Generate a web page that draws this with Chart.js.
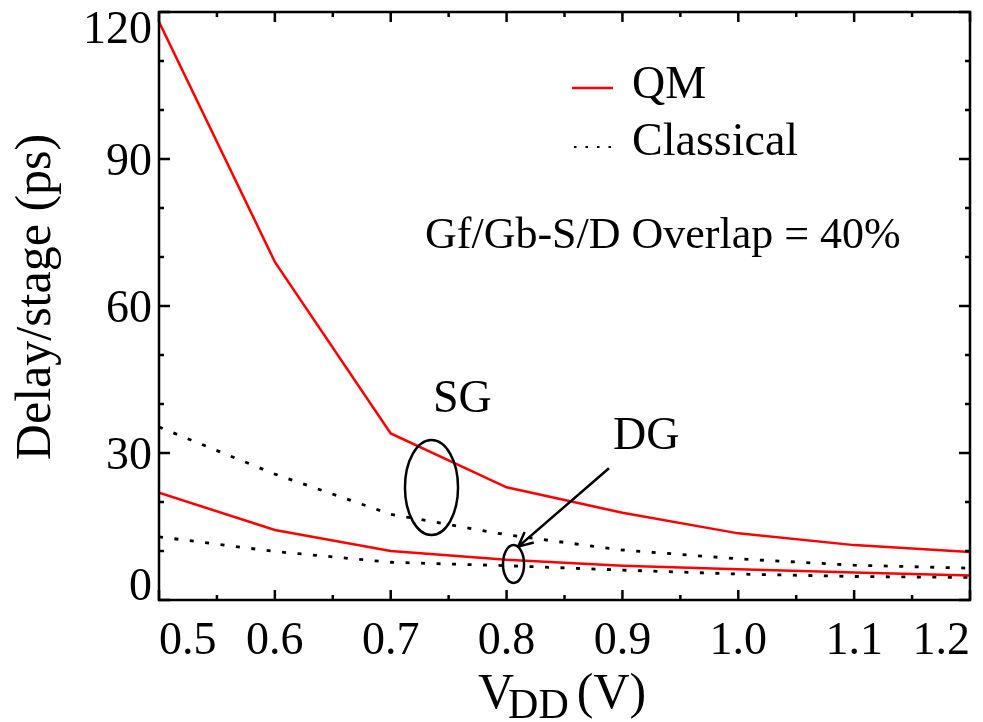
<!DOCTYPE html>
<html>
<head>
<meta charset="utf-8">
<script src="https://cdn.jsdelivr.net/npm/chart.js@4.4.0/dist/chart.umd.min.js"></script>
<style>
  html, body { margin: 0; padding: 0; background: #fff; overflow: hidden; }
  #delayChart { position: absolute; left: 0; top: 0; }
</style>
</head>
<body>
<canvas id="delayChart" width="983" height="722"></canvas>
<script>
// supply voltage (V)
const vdd = [0.5, 0.6, 0.7, 0.8, 0.9, 1.0, 1.1, 1.2];

// delay per stage (ps)
const qmSG = [118, 69, 34, 23, 17.8, 13.6, 11.2, 9.8];
const classicalSG = [35.3, 25.7, 17.5, 13.3, 10.2, 8.4, 7.1, 6.5];
const qmDG = [21.9, 14.3, 10, 8.2, 7.0, 6.3, 5.6, 5.0];
const classicalDG = [12.9, 9.9, 7.7, 7.0, 6.1, 5.3, 4.8, 4.6];

const xTicks = [0.5, 0.6, 0.7, 0.8, 0.9, 1.0, 1.1, 1.2];
const xMinor = [0.55, 0.65, 0.75, 0.85, 0.95, 1.05, 1.15];
const yTicks = [0, 30, 60, 90, 120];
const yMinor = [10, 20, 40, 50, 70, 80, 100, 110];

const serifFam = '"Liberation Serif", serif';
const dotDash = [4, 11.5];

function pts(ys) {
  return vdd.map((v, i) => ({ x: v, y: ys[i] }));
}

// frame, inward ticks, y labels, titles, legend and notes
const decorations = {
  id: 'decorations',
  afterDraw(chart) {
    const ctx = chart.ctx;
    const { left, right, top, bottom } = chart.chartArea;
    const xs = chart.scales.x, ys = chart.scales.y;
    ctx.save();
    ctx.strokeStyle = '#000';
    ctx.fillStyle = '#000';
    ctx.lineWidth = 2.5;
    ctx.lineCap = 'butt';
    ctx.strokeRect(left, top, right - left, bottom - top);

    ctx.beginPath();
    const xt = (v, len) => {
      const p = xs.getPixelForValue(v);
      ctx.moveTo(p, bottom); ctx.lineTo(p, bottom - len);
      ctx.moveTo(p, top); ctx.lineTo(p, top + len);
    };
    const yt = (v, len) => {
      const p = ys.getPixelForValue(v);
      ctx.moveTo(left, p); ctx.lineTo(left + len, p);
      ctx.moveTo(right, p); ctx.lineTo(right - len, p);
    };
    xTicks.forEach(v => xt(v, 10));
    xMinor.forEach(v => xt(v, 5));
    yTicks.forEach(v => yt(v, 11));
    yMinor.forEach(v => yt(v, 5));
    ctx.stroke();

    // y tick labels, end ones pulled inside the frame
    ctx.font = '46px ' + serifFam;
    ctx.textAlign = 'right';
    ctx.textBaseline = 'alphabetic';
    const digitH = 46 * 0.676;
    yTicks.forEach(v => {
      let b = ys.getPixelForValue(v) + digitH / 2;
      b = Math.min(Math.max(b, top + digitH), bottom);
      ctx.fillText(String(v), left - 7, b);
    });

    // y title
    ctx.save();
    ctx.font = '50px ' + serifFam;
    ctx.textAlign = 'center';
    ctx.translate(50, (top + bottom) / 2 - 9);
    ctx.rotate(-Math.PI / 2);
    ctx.fillText('Delay/stage (ps)', 0, 0);
    ctx.restore();

    // x title V_DD (V)
    ctx.textAlign = 'left';
    let tx = 478;
    ctx.font = '50px ' + serifFam;
    ctx.fillText('V', tx, 708);
    tx += ctx.measureText('V').width - 6;
    ctx.font = '42px ' + serifFam;
    ctx.fillText('DD', tx, 718);
    tx += ctx.measureText('DD').width + 8;
    ctx.font = '50px ' + serifFam;
    ctx.fillText('(V)', tx, 708);

    // legend
    ctx.font = '46px ' + serifFam;
    ctx.fillText('QM', 632, 98);
    ctx.fillText('Classical', 632, 155);
    ctx.strokeStyle = '#ff0000';
    ctx.lineWidth = 2.5;
    ctx.beginPath(); ctx.moveTo(572, 88); ctx.lineTo(613, 88); ctx.stroke();
    ctx.strokeStyle = '#000';
    ctx.lineWidth = 2;
    ctx.setLineDash([2.5, 9]);
    ctx.beginPath(); ctx.moveTo(574, 147); ctx.lineTo(614, 147); ctx.stroke();
    ctx.setLineDash([]);

    // notes
    ctx.font = '44px ' + serifFam;
    ctx.fillText('Gf/Gb-S/D Overlap = 40%', 425, 248);
    ctx.font = '46px ' + serifFam;
    ctx.fillText('SG', 433, 412);
    ctx.fillText('DG', 613, 449);

    ctx.lineWidth = 2.5;
    const ellipse = (cx, cy, rx, ry) => {
      const px = xs.getPixelForValue(cx), py = ys.getPixelForValue(cy);
      const rpx = Math.abs(xs.getPixelForValue(cx + rx) - px);
      const rpy = Math.abs(ys.getPixelForValue(cy + ry) - py);
      ctx.beginPath();
      ctx.ellipse(px, py, rpx, rpy, 0, 0, Math.PI * 2);
      ctx.stroke();
    };
    ellipse(0.7352, 22.96, 0.0229, 9.69);
    ellipse(0.806, 7.35, 0.0091, 3.88);

    // arrow to the DG ellipse
    const ax0 = xs.getPixelForValue(0.8884), ay0 = ys.getPixelForValue(26.9);
    const ax1 = xs.getPixelForValue(0.8101), ay1 = ys.getPixelForValue(10.9);
    ctx.beginPath();
    ctx.moveTo(ax0, ay0); ctx.lineTo(ax1, ay1);
    const ang = Math.atan2(ay0 - ay1, ax0 - ax1);
    [-0.45, 0.45].forEach(d => {
      ctx.moveTo(ax1, ay1);
      ctx.lineTo(ax1 + 16 * Math.cos(ang + d), ay1 + 16 * Math.sin(ang + d));
    });
    ctx.stroke();
    ctx.restore();
  }
};

new Chart(document.getElementById('delayChart'), {
  type: 'line',
  data: {
    datasets: [
      { label: 'QM', data: pts(qmSG), borderColor: '#ff0000', borderWidth: 2.5 },
      { label: 'Classical', data: pts(classicalSG), borderColor: '#000', borderWidth: 2.8, borderDash: dotDash },
      { label: 'QM', data: pts(qmDG), borderColor: '#ff0000', borderWidth: 2.5 },
      { label: 'Classical', data: pts(classicalDG), borderColor: '#000', borderWidth: 2.8, borderDash: dotDash }
    ]
  },
  options: {
    responsive: false,
    animation: false,
    elements: { point: { radius: 0 }, line: { tension: 0, fill: false } },
    layout: { padding: { top: 12, right: 13, left: 0, bottom: 0 } },
    plugins: { legend: { display: false }, tooltip: { enabled: false } },
    scales: {
      x: {
        type: 'linear',
        min: 0.5,
        max: 1.2,
        grid: { display: false },
        border: { display: false },
        afterBuildTicks: s => { s.ticks = xTicks.map(v => ({ value: v })); },
        afterFit: s => { s.height = 122; s.paddingLeft = 0; s.paddingRight = 0; },
        ticks: {
          align: 'inner',
          autoSkip: false,
          maxRotation: 0,
          padding: 6,
          color: '#000',
          font: { family: serifFam, size: 46 },
          callback: v => Number(v).toFixed(1)
        }
      },
      y: {
        min: 0,
        max: 120,
        grid: { display: false },
        border: { display: false },
        ticks: { display: false },
        afterFit: s => { s.width = 159; }
      }
    }
  },
  plugins: [decorations]
});
</script>
</body>
</html>
